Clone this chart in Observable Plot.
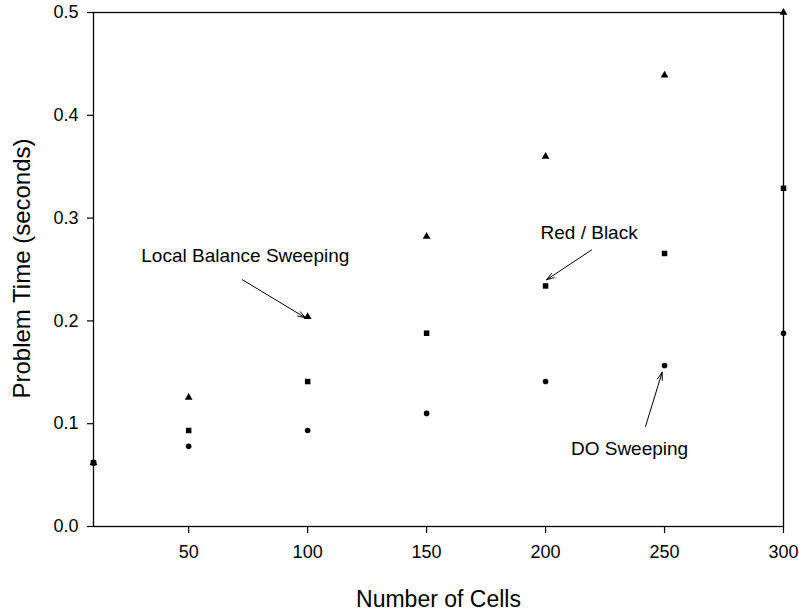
<!DOCTYPE html>
<html>
<head>
<meta charset="utf-8">
<script src="https://cdn.jsdelivr.net/npm/d3@7"></script>
<script src="https://cdn.jsdelivr.net/npm/@observablehq/plot@0.6"></script>
<style>
  html, body { margin: 0; padding: 0; background: #fff; }
  #chart svg { display: block; }
</style>
</head>
<body>
<div id="chart"></div>
<script>
const cells = [10, 50, 100, 150, 200, 250, 300];
const localBalance = [0.062, 0.1255, 0.204, 0.282, 0.360, 0.439, 0.500];
const redBlack = [0.062, 0.0934, 0.141, 0.188, 0.234, 0.2656, 0.329];
const doSweeping = [0.062, 0.078, 0.0934, 0.110, 0.141, 0.1566, 0.188];
const xTicks = [50, 100, 150, 200, 250, 300];
const yTicks = [0, 0.1, 0.2, 0.3, 0.4, 0.5];
const xTitle = "Number of Cells";
const yTitle = "Problem Time (seconds)";

const noteLabels = ["Local Balance Sweeping", "Red / Black", "DO Sweeping"];
const noteTextX = [73.8, 218.3, 235.3];
const noteTextY = [0.2636, 0.286, 0.0759];
const arrowX1 = [72.6, 219.3, 242.0];
const arrowY1 = [0.240, 0.269, 0.0973];
const arrowX2 = [99.1, 200.4, 249.0];
const arrowY2 = [0.203, 0.240, 0.150];

const toPoints = vals => cells.map((c, i) => ({x: c, y: vals[i]}));
const notes = noteLabels.map((t, i) => ({
  text: t, tx: noteTextX[i], ty: noteTextY[i],
  x1: arrowX1[i], y1: arrowY1[i], x2: arrowX2[i], y2: arrowY2[i]
}));

const chart = Plot.plot({
  width: 799,
  height: 613,
  marginLeft: 93,
  marginRight: 16,
  marginTop: 12,
  marginBottom: 87,
  style: {fontFamily: "'Liberation Sans', Arial, sans-serif", fontSize: "18px", color: "#000", background: "#fff"},
  x: {domain: [10, 300]},
  y: {domain: [0, 0.5]},
  marks: [
    Plot.frame({stroke: "#000", strokeWidth: 1.3}),
    Plot.axisX(xTicks, {tickSize: 7, tickPadding: 12, fontSize: 18, strokeWidth: 1.2, label: null}),
    Plot.axisY(yTicks, {tickSize: 6, tickPadding: 9, fontSize: 18, strokeWidth: 1.2, tickFormat: d3.format(".1f"), label: null}),
    Plot.text([xTitle], {frameAnchor: "bottom", dy: 73, lineAnchor: "middle", fontSize: 23, fill: "#000"}),
    Plot.text([yTitle], {frameAnchor: "left", dx: -71, dy: -1, rotate: -90, lineAnchor: "middle", textAnchor: "middle", fontSize: 24, fill: "#000"}),
    Plot.arrow(notes, {x1: "x1", y1: "y1", x2: "x2", y2: "y2", stroke: "#000", strokeWidth: 1, headLength: 12, headAngle: 36}),
    Plot.text(notes, {x: "tx", y: "ty", text: "text", fontSize: 19, fill: "#000"}),
    Plot.dot(toPoints(localBalance), {x: "x", y: "y", symbol: "triangle", fill: "#000", stroke: "none", r: 2.9}),
    Plot.dot(toPoints(redBlack), {x: "x", y: "y", symbol: "square", fill: "#000", stroke: "none", r: 3.1}),
    Plot.dot(toPoints(doSweeping), {x: "x", y: "y", symbol: "circle", fill: "#000", stroke: "none", r: 2.8})
  ]
});
document.getElementById("chart").appendChild(chart);
</script>
</body>
</html>
